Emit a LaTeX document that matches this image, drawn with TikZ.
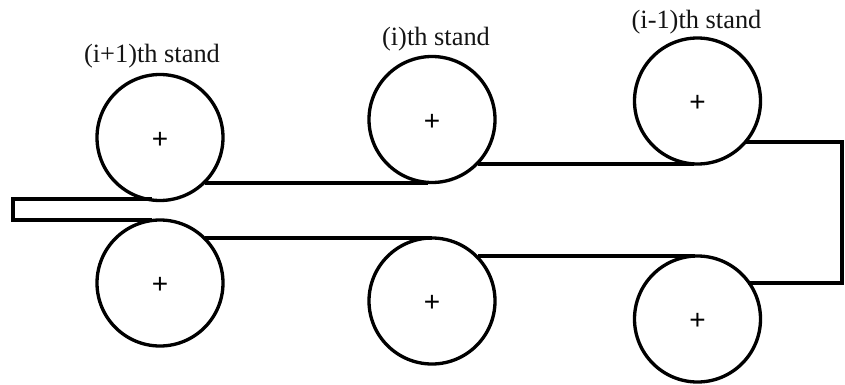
\documentclass[tikz,border=0pt]{standalone}
\usepackage{fontspec}
\setmainfont{Liberation Serif}
\newfontfamily\plusfont{Liberation Sans}
\newcommand{\plusmark}{\smash{\raisebox{-7.9pt}{+}}}
\definecolor{ink}{gray}{0.08}
\tikzset{
  x=0.75pt,y=-0.75pt,
  roll/.style={circle,draw=black,line width=2.5pt,minimum size=94.5pt,inner sep=0pt,font=\plusfont\fontsize{21}{21}\selectfont},
  strip/.style={draw=black,line width=2.5pt,line join=miter},
  lab/.style={font=\fontsize{19.8}{22}\selectfont,inner sep=0pt,text=ink}
}
\begin{document}
\begin{tikzpicture}
\useasboundingbox (0,0) rectangle (845,385);
\node[roll] (a1) at (160,137.5) {\plusmark};
\node[roll] (a2) at (160,283) {\plusmark};
\node[roll] (b1) at (432,119.5) {\plusmark};
\node[roll] (b2) at (432,301) {\plusmark};
\node[roll] (c1) at (697.5,101) {\plusmark};
\node[roll] (c2) at (697.5,319) {\plusmark};
\coordinate (p1) at (13,199);
\coordinate (p2) at (13,220);
\coordinate (q1) at (152,199);
\coordinate (q2) at (152,220);
\coordinate (r1) at (205,183);
\coordinate (r2) at (428,183);
\coordinate (s1) at (205,238);
\coordinate (s2) at (432,238);
\coordinate (t1) at (478,164);
\coordinate (t2) at (694,164);
\coordinate (u1) at (478,256);
\coordinate (u2) at (695,256);
\coordinate (v1) at (745,142);
\coordinate (v2) at (842,142);
\coordinate (w1) at (842,283);
\coordinate (w2) at (748,283);
\draw[strip] (q1) -- (p1) -- (p2) -- (q2);
\draw[strip] (r1) -- (r2);
\draw[strip] (s1) -- (s2);
\draw[strip] (t1) -- (t2);
\draw[strip] (u1) -- (u2);
\draw[strip] (v1) -- (v2) -- (w1) -- (w2);
\node[lab] (l1) at (152,56) {(i+1)th stand};
\node[lab] (l2) at (436,39) {(i)th stand};
\node[lab] (l3) at (696.5,22.5) {(i-1)th stand};
\end{tikzpicture}
\end{document}
